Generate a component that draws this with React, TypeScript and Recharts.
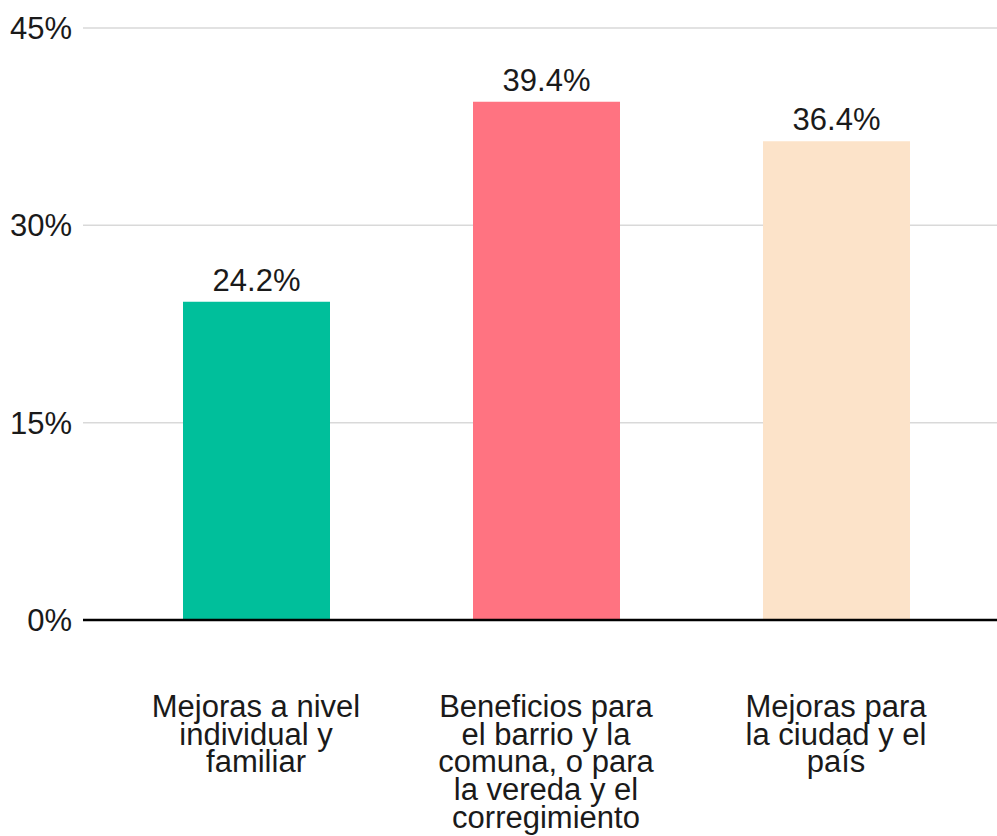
import React from 'react';
import { BarChart, Bar, XAxis, YAxis, CartesianGrid, Cell, LabelList } from 'recharts';

const categories = [
  'Mejoras a nivel individual y familiar',
  'Beneficios para el barrio y la comuna, o para la vereda y el corregimiento',
  'Mejoras para la ciudad y el país',
];

const categoryLines = [
  ['Mejoras a nivel', 'individual y', 'familiar'],
  ['Beneficios para', 'el barrio y la', 'comuna, o para', 'la vereda y el', 'corregimiento'],
  ['Mejoras para', 'la ciudad y el', 'país'],
];

const values = [24.2, 39.4, 36.4];

const yTicks = [0, 15, 30, 45];

const COLORS = ['#00BF9B', '#FF7381', '#FCE3C9'];

const FONT = 'Liberation Sans, Arial, sans-serif';

const data = categories.map((name, i) => ({ name, value: values[i] }));

function CategoryTick({ x, y, payload }: any) {
  const lines = categoryLines[payload.index] || [];
  return (
    <text x={x} y={y + 97} textAnchor="middle" fontFamily={FONT} fontSize={31} fill="#1a1a1a">
      {lines.map((line, i) => (
        <tspan key={i} x={x} dy={i === 0 ? 0 : 27.7}>
          {line}
        </tspan>
      ))}
    </text>
  );
}

export default function App() {
  return (
    <div style={{ position: 'absolute', left: 0, top: 0, width: 997, height: 836, background: '#fff' }}>
      <BarChart width={997} height={836} data={data} margin={{ top: 28, right: 0, bottom: 0, left: 0 }}>
        <CartesianGrid vertical={false} stroke="#d9d9d9" strokeWidth={1.5} />
        <XAxis
          dataKey="name"
          height={216}
          padding={{ left: 28, right: 16 }}
          tickLine={false}
          tickSize={0}
          tickMargin={0}
          axisLine={{ stroke: '#000', strokeWidth: 2.5 }}
          tick={<CategoryTick />}
          interval={0}
        />
        <YAxis
          width={83}
          domain={[0, 45]}
          ticks={yTicks}
          tickFormatter={(v: number) => `${v}%`}
          axisLine={false}
          tickLine={false}
          tickSize={0}
          tickMargin={11}
          tick={{ fontFamily: FONT, fontSize: 31, fill: '#1a1a1a' }}
        />
        <Bar dataKey="value" barSize={147} isAnimationActive={false}>
          {data.map((d, i) => (
            <Cell key={d.name} fill={COLORS[i % COLORS.length]} />
          ))}
          <LabelList
            dataKey="value"
            position="top"
            offset={11}
            formatter={(v: number) => `${v.toFixed(1)}%`}
            style={{ fontFamily: FONT, fontSize: 31, fill: '#1a1a1a' }}
          />
        </Bar>
      </BarChart>
    </div>
  );
}
